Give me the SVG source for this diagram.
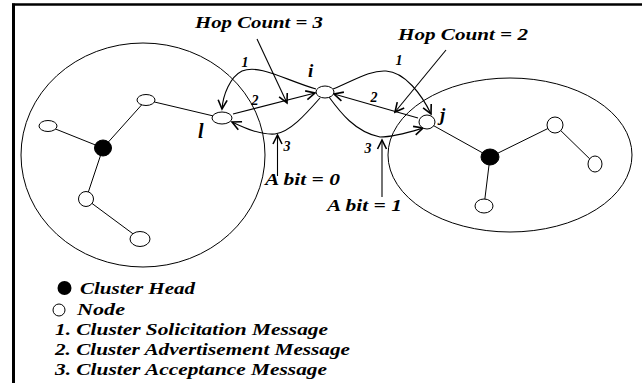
<svg xmlns="http://www.w3.org/2000/svg" width="642" height="383" viewBox="0 0 642 383">
<style>
.t{font-family:'Liberation Serif','Times New Roman',serif;font-weight:700;font-style:italic;fill:#000}
.ln{stroke:#000;stroke-width:1;fill:none}
.cl{stroke:#000;stroke-width:1;fill:none}
.nd{stroke:#000;stroke-width:1;fill:#fff}
.ch{stroke:#000;stroke-width:1;fill:#000}
.ar{stroke:#000;stroke-width:1.1;fill:none;marker-end:url(#ah)}
</style>
<defs>
<marker id="ah" viewBox="-11 -6 13 12" refX="0" refY="0" markerWidth="13" markerHeight="12" markerUnits="userSpaceOnUse" orient="auto">
<path d="M-9,-4.5 L0,0 L-9,4.5" fill="none" stroke="#000" stroke-width="1.6"/>
</marker>
</defs>
<rect width="642" height="383" fill="#fff"/>
<g id="frame">
<line x1="12" y1="4.5" x2="642" y2="4.5" stroke="#000" stroke-width="2.5"/>
<line x1="13.5" y1="3.5" x2="13.5" y2="383" stroke="#000" stroke-width="3"/>
</g>
<g id="cluster-left"><ellipse class="cl" cx="143" cy="155" rx="122" ry="112"/></g>
<g id="cluster-right"><ellipse class="cl" cx="510" cy="155" rx="122" ry="77"/></g>
<g id="connectors">
<line class="ln" x1="103" y1="148" x2="48" y2="126"/>
<line class="ln" x1="103" y1="148" x2="146" y2="100"/>
<line class="ln" x1="146" y1="100" x2="222" y2="118"/>
<line class="ln" x1="103" y1="148" x2="86" y2="199"/>
<line class="ln" x1="86" y1="199" x2="140" y2="239"/>
<line class="ln" x1="427" y1="122" x2="490" y2="157"/>
<line class="ln" x1="490" y1="157" x2="555" y2="125"/>
<line class="ln" x1="555" y1="125" x2="595" y2="164"/>
<line class="ln" x1="490" y1="157" x2="484" y2="206"/>
<path class="ar" d="M316,89 C285,80 260,64 242,71 C230,77 223,95 222,109"/>
<path class="ar" d="M333,89 C355,80 370,70 386,71 C405,72 422,95 431,114"/>
<path class="ar" d="M233,114 L315,93"/>
<path class="ar" d="M418,118 L334,94"/>
<path class="ar" d="M320,98 C305,115 290,132 275,134 C260,135 245,128 232,122"/>
<path class="ar" d="M329,97 C340,112 355,132 380,137 C395,137 410,132 423,128"/>
<path class="ar" d="M257,39 L287,103"/>
<path class="ar" d="M446,50 L395,112"/>
<path class="ar" d="M277.5,176 L277.5,135"/>
<path class="ar" d="M382,197 L382,140"/>
</g>
<g id="node-ch-left"><ellipse class="ch" cx="103" cy="148" rx="8.5" ry="8"/></g>
<g id="node-a"><ellipse class="nd" cx="48" cy="126" rx="9" ry="5.5"/></g>
<g id="node-b"><ellipse class="nd" cx="146" cy="100" rx="9" ry="5.5"/></g>
<g id="node-l"><ellipse class="nd" cx="222" cy="118" rx="10" ry="6"/></g>
<g id="node-c"><ellipse class="nd" cx="86" cy="199" rx="7.5" ry="7.5"/></g>
<g id="node-d"><ellipse class="nd" cx="140" cy="239" rx="10" ry="7.5"/></g>
<g id="node-i"><ellipse class="nd" cx="325" cy="92" rx="9" ry="6"/></g>
<g id="node-j"><ellipse class="nd" cx="427" cy="122" rx="8" ry="7"/></g>
<g id="node-ch-right"><ellipse class="ch" cx="490" cy="157" rx="9" ry="8"/></g>
<g id="node-e"><ellipse class="nd" cx="555" cy="125" rx="8" ry="8"/></g>
<g id="node-f"><ellipse class="nd" cx="595" cy="164" rx="7" ry="8"/></g>
<g id="node-g"><ellipse class="nd" cx="484" cy="206" rx="9" ry="7"/></g>
<g id="labels">
<text class="t" x="195" y="28" font-size="16" textLength="128" lengthAdjust="spacingAndGlyphs">Hop Count = 3</text>
<text class="t" x="398" y="40" font-size="16" textLength="130" lengthAdjust="spacingAndGlyphs">Hop Count = 2</text>
<text class="t" x="245" y="67" font-size="14" text-anchor="middle">1</text>
<text class="t" x="399" y="65" font-size="14" text-anchor="middle">1</text>
<text class="t" x="255" y="105" font-size="14" text-anchor="middle">2</text>
<text class="t" x="374" y="102" font-size="14" text-anchor="middle">2</text>
<text class="t" x="287" y="151" font-size="14" text-anchor="middle">3</text>
<text class="t" x="368" y="153" font-size="14" text-anchor="middle">3</text>
<text class="t" x="198" y="138" font-size="20">l</text>
<text class="t" x="308" y="77" font-size="19">i</text>
<text class="t" x="440" y="121" font-size="19">j</text>
<text class="t" x="265" y="185" font-size="16" textLength="75" lengthAdjust="spacingAndGlyphs">A bit = 0</text>
<text class="t" x="327" y="211" font-size="16" textLength="75" lengthAdjust="spacingAndGlyphs">A bit = 1</text>
</g>
<g id="legend">
<circle cx="64.5" cy="288" r="7" fill="#000"/>
<circle cx="59" cy="310" r="6" fill="#fff" stroke="#000" stroke-width="1"/>
<text class="t" x="80" y="294" font-size="17" textLength="115" lengthAdjust="spacingAndGlyphs">Cluster Head</text>
<text class="t" x="77" y="315" font-size="17" textLength="48" lengthAdjust="spacingAndGlyphs">Node</text>
<text class="t" x="55" y="335" font-size="17" textLength="273" lengthAdjust="spacingAndGlyphs">1. Cluster Solicitation Message</text>
<text class="t" x="55" y="355" font-size="17" textLength="295" lengthAdjust="spacingAndGlyphs">2. Cluster Advertisement Message</text>
<text class="t" x="55" y="375" font-size="17" textLength="272" lengthAdjust="spacingAndGlyphs">3. Cluster Acceptance Message</text>
</g>
</svg>
